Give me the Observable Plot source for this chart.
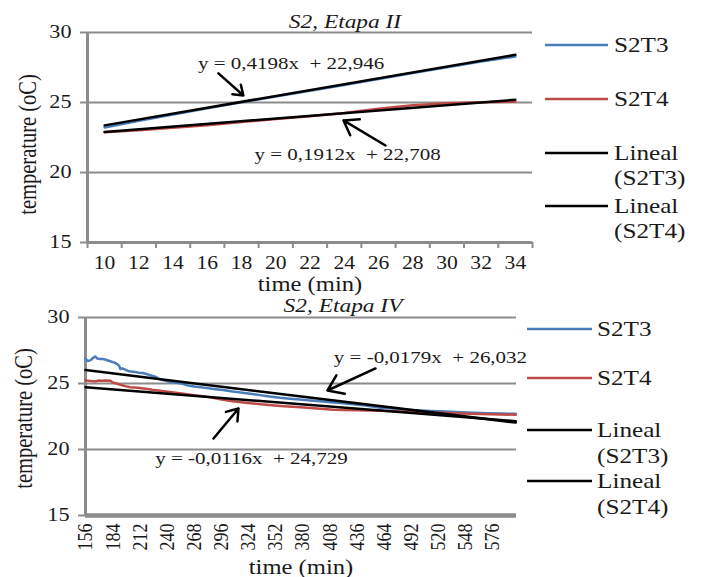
<!DOCTYPE html>
<html><head><meta charset="utf-8">
<script src="https://cdn.jsdelivr.net/npm/d3@7"></script>
<script src="https://cdn.jsdelivr.net/npm/@observablehq/plot@0.6"></script>
<style>
html,body{margin:0;padding:0;background:#fff;}
body{width:705px;height:577px;overflow:hidden;position:relative;font-family:"Liberation Serif",serif;}
.panel{position:absolute;left:0;}
</style></head><body>
<div id="p1" class="panel" style="top:0px"></div>
<div id="p2" class="panel" style="top:290px"></div>
<script>
// ---------- data: panel "S2, Etapa II" ----------
const timeII = [10, 12, 14, 16, 18, 20, 22, 24, 26, 28, 30, 32, 34];
const s2t3II = [23.22, 23.7, 24.15, 24.58, 25.02, 25.42, 25.83, 26.25, 26.68, 27.1, 27.52, 27.93, 28.28];
const s2t4II = [22.88, 23.02, 23.2, 23.38, 23.6, 23.82, 24.02, 24.25, 24.55, 24.8, 24.95, 25.02, 25.06];
const xTickMarksII = [9, 11, 13, 15, 17, 19, 21, 23, 25, 27, 29, 31, 33, 35];
const slopeII = [0.4198, 0.1912];
const interceptII = [22.946, 22.708];
const countII = 13, startII = 10, stepII = 2;
const equationII = ["y = 0,4198x\u00a0 + 22,946", "y = 0,1912x\u00a0 + 22,708"];
const eqXII = [20.9, 24.2], eqYII = [27.8, 21.28];
const arrowX1II = [16.65, 26.41], arrowY1II = [27.08, 21.93];
const arrowX2II = [18.11, 23.96], arrowY2II = [25.5, 23.72];

// ---------- data: panel "S2, Etapa IV" ----------
const timeIVT3 = [156,158,161,164,166,168,171,174,177,180,183,186,189,191,192,194,197,200,203,207,211,215,219,223,228,233,238,244,250,256,262,268,275,282,290,298,306,316,326,336,346,357,367,377,388,398,409,419,432,445,452,460,470,481,491,502,512,522,533,543,557,571,585,600];
const s2t3IV = [26.9,26.7,26.75,26.95,27.05,26.9,26.85,26.85,26.8,26.72,26.65,26.58,26.45,26.3,26.1,26.15,26.05,25.95,25.9,25.88,25.82,25.8,25.72,25.62,25.52,25.3,25.22,25.12,25.05,24.98,24.85,24.78,24.72,24.65,24.57,24.5,24.42,24.32,24.22,24.12,24.02,23.92,23.85,23.78,23.71,23.65,23.58,23.52,23.42,23.33,23.25,23.16,23.12,23.05,23.0,22.95,22.92,22.89,22.86,22.83,22.79,22.75,22.72,22.7];
const timeIVT4 = [156,159,163,166,169,172,177,182,184,188,192,197,202,210,218,225,233,241,249,257,264,275,285,295,306,321,337,357,378,395,412,436,460,481,502,522,543,574,600];
const s2t4IV = [25.25,25.2,25.18,25.15,25.22,25.2,25.22,25.2,25.08,25.0,24.9,24.8,24.72,24.68,24.6,24.52,24.45,24.38,24.3,24.22,24.15,24.05,23.95,23.8,23.68,23.55,23.42,23.3,23.2,23.1,23.02,22.97,22.93,22.88,22.83,22.78,22.72,22.67,22.63];
const xTickLabelsIV = [156,184,212,240,268,296,324,352,380,408,436,464,492,520,548,576];
const slopeIV = [-0.0179, -0.0116];
const interceptIV = [26.032, 24.729];
const countIV = 223, startIV = 156, stepIV = 2;
const equationIV = ["y = -0,0179x\u00a0 + 26,032", "y = -0,0116x\u00a0 + 24,729"];
const eqXIV = [512, 327.3], eqYIV = [26.97, 19.32];
const arrowX1IV = [455.3, 288.1], arrowY1IV = [26.14, 20.83];
const arrowX2IV = [405.7, 313.9], arrowY2IV = [24.47, 23.11];

// ---------- shared ----------
const yTicks = [15, 20, 25, 30];
const gridValues = [20, 25, 30];
const titles = ["S2, Etapa II", "S2, Etapa IV"];
const legendLabels = [["S2T3"], ["S2T4"], ["Lineal", "(S2T3)"], ["Lineal", "(S2T4)"]];
const yLabel = "temperature (oC)";
const xLabel = "time (min)";

const blue = "#4a7ebb", red = "#be4b48", grey = "#8c8c8c", ink = "#1a1a1a";
const font = "Liberation Serif";
const legendColors = [blue, red, "#000", "#000"];
const K = 1.2; // horizontal glyph stretch of the original

function trendRows(slopes, intercepts, t0, step, n) {
  return slopes.flatMap((s, k) => [
    {k, x: t0, y: intercepts[k] + s * 1},
    {k, x: t0 + (n - 1) * step, y: intercepts[k] + s * n}
  ]);
}
function stretch(svg) {
  svg.querySelectorAll("text").forEach(t => {
    const tr = t.getAttribute("transform") || "";
    const rot = /rotate\(-?90\)/.test(tr);
    t.setAttribute("transform", tr + (rot ? ` scale(1,${K})` : ` scale(${K},1)`));
  });
}

function panel(o) {
  return Plot.plot({
    width: 705, height: o.height,
    marginLeft: o.ml, marginRight: o.mr, marginTop: o.mt, marginBottom: o.mb,
    style: {fontFamily: font, fontSize: "18px", color: ink, background: "transparent", overflow: "visible"},
    x: {domain: o.xDomain},
    y: {domain: [15, 30]},
    marks: [
      Plot.ruleY(gridValues, {stroke: grey, strokeWidth: 2}),
      Plot.ruleY([15], {stroke: grey, strokeWidth: o.xAxisWidth}),
      Plot.ruleX([o.xDomain[0]], {stroke: grey, strokeWidth: 3}),
      Plot.axisY({ticks: yTicks, tickSize: 7, tickPadding: 9, stroke: grey, strokeWidth: 2, fontSize: 18.5, fill: ink, label: null}),
      Plot.text([yLabel], {frameAnchor: "left", rotate: -90, textAnchor: "middle", lineAnchor: "top", dx: -o.yLabelOffset, dy: o.yLabelShift, fontSize: 20.5, fill: ink}),
      ...o.xAxes,
      Plot.axisX({ticks: [], tickSize: 0, label: xLabel, labelAnchor: "center", labelArrow: "none", labelOffset: o.xLabelOffset, fontSize: 20.5, fill: ink}),
      Plot.line(o.s3, {x: o.t3, y: o.s3, stroke: blue, strokeWidth: 2.5}),
      Plot.line(o.s4, {x: o.t4, y: o.s4, stroke: red, strokeWidth: 2.5}),
      Plot.line(o.trend, {x: "x", y: "y", z: "k", stroke: "#000", strokeWidth: 2.5}),
      Plot.arrow(o.ax1, {x1: o.ax1, y1: o.ay1, x2: o.ax2, y2: o.ay2, stroke: "#000", strokeWidth: 2.5, headLength: 13, headAngle: 70}),
      Plot.text(o.eq, {x: o.eqX, y: o.eqY, text: o.eq, fontSize: 17.5, fill: ink})
    ]
  });
}

const chartII = panel({
  height: 290, ml: 87, mr: 173, mt: 32, mb: 48, xDomain: [9, 35], xAxisWidth: 3,
  yLabelOffset: 69, yLabelShift: 7, xLabelOffset: 48,
  xAxes: [
    Plot.axisX({ticks: xTickMarksII, tickSize: 6, stroke: grey, strokeWidth: 2, tickFormat: () => "", label: null}),
    Plot.axisX({ticks: timeII, tickSize: 0, tickPadding: 14, fontSize: 18, fill: ink, label: null})
  ],
  t3: timeII, s3: s2t3II, t4: timeII, s4: s2t4II,
  trend: trendRows(slopeII, interceptII, startII, stepII, countII),
  ax1: arrowX1II, ay1: arrowY1II, ax2: arrowX2II, ay2: arrowY2II,
  eq: equationII, eqX: eqXII, eqY: eqYII
});
const chartIV = panel({
  height: 287, ml: 85, mr: 189, mt: 27, mb: 62, xDomain: [156, 600.8], xAxisWidth: 4.5,
  yLabelOffset: 71, yLabelShift: 2, xLabelOffset: 58,
  xAxes: [
    Plot.axisX({ticks: xTickLabelsIV, tickSize: 0, tickPadding: 8, tickRotate: -90, fontSize: 18, fill: ink, label: null})
  ],
  t3: timeIVT3, s3: s2t3IV, t4: timeIVT4, s4: s2t4IV,
  trend: trendRows(slopeIV, interceptIV, startIV, stepIV, countIV),
  ax1: arrowX1IV, ay1: arrowY1IV, ax2: arrowX2IV, ay2: arrowY2IV,
  eq: equationIV, eqX: eqXIV, eqY: eqYIV
});
stretch(chartII); stretch(chartIV);
document.getElementById("p1").appendChild(chartII);
document.getElementById("p2").appendChild(chartIV);

// ---------- titles and legends ----------
const ov = d3.select("body").append("svg")
  .attr("width", 705).attr("height", 577)
  .style("position", "absolute").style("left", 0).style("top", 0)
  .style("font-family", font).style("pointer-events", "none");

const titleSpecs = [{x: 345, y: 28}, {x: 343, y: 312}];
titles.forEach((t, i) => {
  ov.append("text").attr("transform", `translate(${titleSpecs[i].x},${titleSpecs[i].y}) scale(${K},1)`)
    .attr("text-anchor", "middle").attr("font-style", "italic").attr("font-size", 19.5).attr("fill", ink).text(t);
});

const legendSpecs = [
  {x1: 545, x2: 608, tx: 614, ys: [45, 99, 153, 206], gap: 25},
  {x1: 527, x2: 592, tx: 597, ys: [329, 378, 430, 481], gap: 26}
];
legendSpecs.forEach(spec => {
  legendLabels.forEach((lines, i) => {
    const y = spec.ys[i];
    ov.append("line").attr("x1", spec.x1).attr("x2", spec.x2).attr("y1", y).attr("y2", y)
      .attr("stroke", legendColors[i]).attr("stroke-width", 2.5);
    lines.forEach((ln, j) => {
      ov.append("text").attr("transform", `translate(${spec.tx},${y + j * spec.gap + 7}) scale(${K},1)`)
        .attr("font-size", 21).attr("fill", ink).text(ln);
    });
  });
});
</script></body></html>
